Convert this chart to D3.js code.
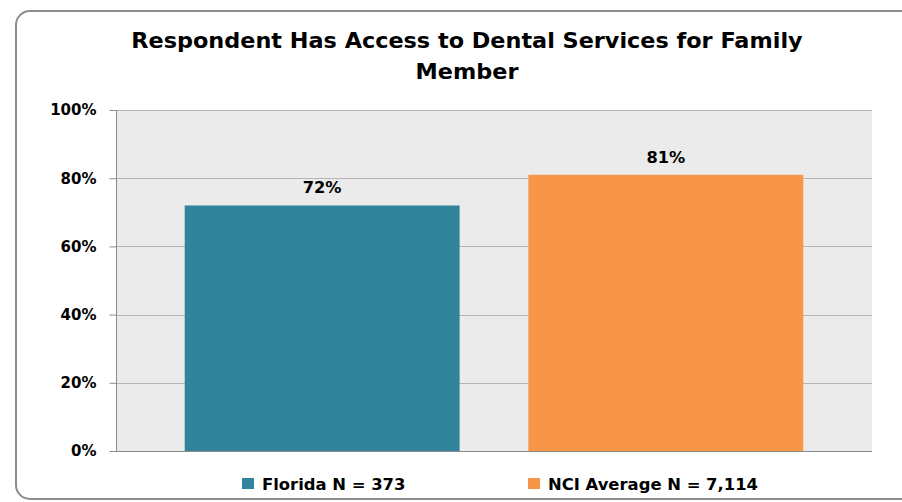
<!DOCTYPE html>
<html>
<head>
<meta charset="utf-8">
<script src="https://cdn.jsdelivr.net/npm/d3@7"></script>
<style>
  html, body { margin: 0; padding: 0; background: #fff; }
  svg { display: block; }
  text { font-family: "DejaVu Sans", "Open Sans", sans-serif; font-weight: bold; fill: #000; }
</style>
</head>
<body>
<svg id="chart" width="902" height="502"></svg>
<script>
const titleLines = ["Respondent Has Access to Dental Services for Family", "Member"];
const seriesNames = ["Florida N = 373", "NCI Average N = 7,114"];
const seriesValues = [72, 81];
const seriesColors = ["#31849b", "#f79646"];
const yTicks = [0, 20, 40, 60, 80, 100];

const svg = d3.select("#chart");
const plot = { left: 116, right: 872, top: 110, bottom: 451 };

// stretch text horizontally by a factor (reference uses a wide-rendered Calibri)
function stretch(sel, factor) {
  sel.each(function () {
    const w = this.getComputedTextLength();
    d3.select(this).attr("textLength", w * factor).attr("lengthAdjust", "spacingAndGlyphs");
  });
}

// outer frame
svg.append("rect")
  .attr("x", 16).attr("y", 11)
  .attr("width", 1000).attr("height", 488)
  .attr("rx", 14).attr("ry", 14)
  .attr("fill", "#fff").attr("stroke", "#8c8c8c").attr("stroke-width", 2);

// title
const titleG = svg.append("g");
titleG.selectAll("text").data(titleLines).join("text")
  .attr("x", 467)
  .attr("y", (d, i) => 48 + i * 31)
  .attr("text-anchor", "middle")
  .style("font-size", "20.5px")
  .text(d => d)
  .call(stretch, 1.09);

const x = d3.scaleBand().domain(seriesNames).range([plot.left, plot.right]).padding(0.2);
const y = d3.scaleLinear().domain([0, 100]).range([plot.bottom, plot.top]);

// plot background
svg.append("rect")
  .attr("x", plot.left).attr("y", plot.top)
  .attr("width", plot.right - plot.left).attr("height", plot.bottom - plot.top)
  .attr("fill", "#ebebeb");

// gridlines
svg.append("g").selectAll("line").data(yTicks.filter(t => t > 0)).join("line")
  .attr("x1", plot.left).attr("x2", plot.right)
  .attr("y1", d => Math.round(y(d)) + 0.5).attr("y2", d => Math.round(y(d)) + 0.5)
  .attr("stroke", "#b5b5b5").attr("stroke-width", 1);

// bars
svg.append("g").selectAll("rect").data(seriesValues).join("rect")
  .attr("x", (d, i) => x(seriesNames[i]))
  .attr("width", x.bandwidth())
  .attr("y", d => y(d))
  .attr("height", d => plot.bottom - y(d))
  .attr("fill", (d, i) => seriesColors[i]);

// value labels
svg.append("g").selectAll("text").data(seriesValues).join("text")
  .attr("x", (d, i) => x(seriesNames[i]) + x.bandwidth() / 2)
  .attr("y", d => y(d) - 12)
  .attr("text-anchor", "middle")
  .style("font-size", "15px")
  .text(d => d + "%")
  .call(stretch, 1.08);

// y axis
const yAxis = d3.axisLeft(y).tickValues(yTicks).tickFormat(d => d + "%").tickSize(7).tickPadding(13);
const gy = svg.append("g").attr("transform", `translate(${plot.left + 0.5},0)`).call(yAxis);
gy.select(".domain").attr("stroke", "#8c8c8c").attr("d", `M0,${plot.top}V${plot.bottom}`);
gy.selectAll(".tick line").attr("stroke", "#8c8c8c");
gy.selectAll(".tick text")
  .style("font-size", "15px").style("font-family", "'DejaVu Sans', sans-serif").style("font-weight", "bold")
  .attr("fill", "#000");

// x baseline
svg.append("line")
  .attr("x1", plot.left).attr("x2", plot.right)
  .attr("y1", plot.bottom + 0.5).attr("y2", plot.bottom + 0.5)
  .attr("stroke", "#8c8c8c");

// legend
const legendX = [242, 528];
const lg = svg.append("g").selectAll("g").data(seriesNames).join("g")
  .attr("transform", (d, i) => `translate(${legendX[i]},478)`);
lg.append("rect").attr("width", 12).attr("height", 11).attr("fill", (d, i) => seriesColors[i]);
lg.append("text").attr("x", 20).attr("y", 11.5).style("font-size", "16px").text(d => d)
  .call(stretch, 1.025);
</script>
</body>
</html>
